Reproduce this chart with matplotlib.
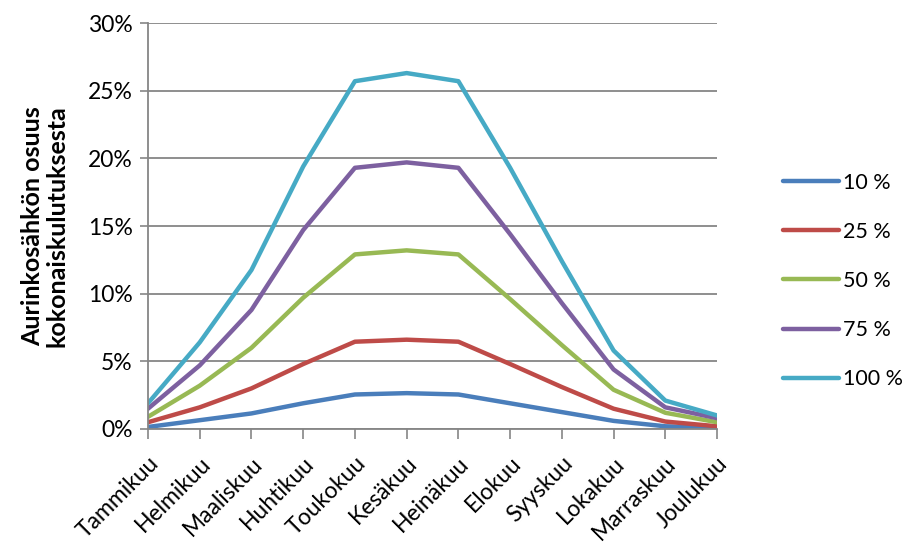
import matplotlib
matplotlib.use("Agg")
import matplotlib.pyplot as plt
from matplotlib.ticker import FuncFormatter

plt.rcParams['font.family'] = ['Lato', 'DejaVu Sans']

months = ["Tammikuu", "Helmikuu", "Maaliskuu", "Huhtikuu", "Toukokuu", "Kesäkuu",
          "Heinäkuu", "Elokuu", "Syyskuu", "Lokakuu", "Marraskuu", "Joulukuu"]
labels = ["10 %", "25 %", "50 %", "75 %", "100 %"]
s10 = [0.15, 0.65, 1.15, 1.9, 2.55, 2.65, 2.55, 1.9, 1.25, 0.6, 0.2, 0.1]
s25 = [0.5, 1.6, 3.0, 4.8, 6.45, 6.6, 6.45, 4.8, 3.1, 1.5, 0.55, 0.2]
s50 = [0.9, 3.2, 6.0, 9.7, 12.9, 13.2, 12.9, 9.6, 6.2, 2.9, 1.2, 0.5]
s75 = [1.5, 4.7, 8.8, 14.7, 19.3, 19.7, 19.3, 14.4, 9.3, 4.4, 1.6, 0.8]
s100 = [1.9, 6.4, 11.75, 19.4, 25.7, 26.3, 25.7, 19.3, 12.4, 5.8, 2.1, 1.0]
colors = ["#4a7ebb", "#be4b48", "#98b954", "#7d60a0", "#46aac5"]

fig = plt.figure(figsize=(9.08, 5.44), dpi=100)
ax = fig.add_axes([0.163, 0.2114, 0.6267, 0.7463])

x = list(range(len(months)))
for vals, lab, c in zip([s10, s25, s50, s75, s100], labels, colors):
    ax.plot(x, [v / 100 for v in vals], color=c, lw=3.2, label=lab,
            solid_joinstyle='round', solid_capstyle='round')

ax.set_xlim(0, len(months) - 1)
ax.set_ylim(0, 0.30)
ax.set_yticks([0, 0.05, 0.10, 0.15, 0.20, 0.25, 0.30])
ax.yaxis.set_major_formatter(FuncFormatter(lambda v, p: f"{v*100:.0f}%"))
ax.set_xticks(x)
ax.set_xticklabels(months, rotation=45, ha='right', rotation_mode='anchor', fontsize=16.5)
ax.tick_params(axis='y', labelsize=16.5, length=6, width=1.2, color='#868686', pad=5)
ax.tick_params(axis='x', length=7, width=1.2, color='#868686', pad=10, direction='out')
ax.grid(axis='y', color='#868686', lw=1.3)
ax.set_axisbelow(True)
for s in ['top', 'right']:
    ax.spines[s].set_visible(False)
for s in ['left', 'bottom']:
    ax.spines[s].set_color('#868686')
    ax.spines[s].set_linewidth(1.3)

ax.set_ylabel("Aurinkosähkön osuus\nkokonaiskulutuksesta", fontsize=18,
              fontweight='bold', labelpad=14, linespacing=1.05)

ax.legend(loc='center left', bbox_to_anchor=(772 / 908, 1 - 281 / 544),
          bbox_transform=fig.transFigure, borderpad=0, frameon=False,
          fontsize=15.5, handlelength=2.6, handletextpad=0.2, labelspacing=1.35)

fig.savefig("out.png", dpi=100)
